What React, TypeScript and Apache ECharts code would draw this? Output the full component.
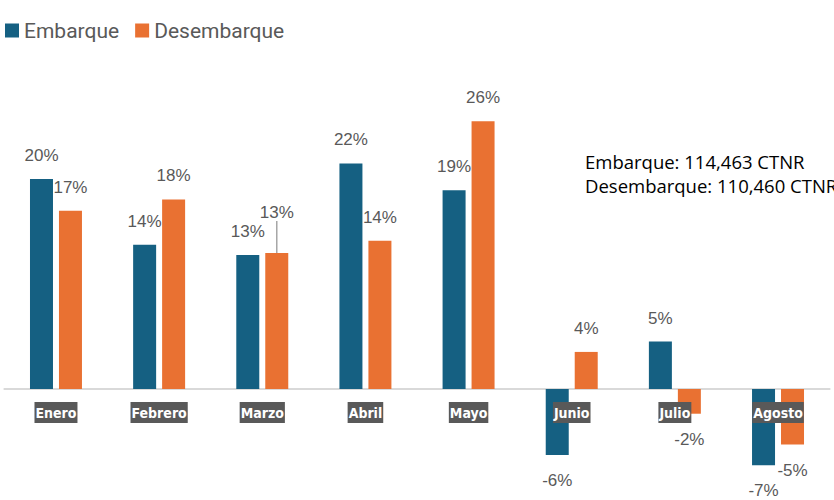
import React, { useEffect, useRef } from "react";
import * as echarts from "echarts";

const categories = ["Enero", "Febrero", "Marzo", "Abril", "Mayo", "Junio", "Julio", "Agosto"];
const embarque = [20.4, 14.0, 13.0, 21.9, 19.3, -6.4, 4.6, -7.4];
const desembarque = [17.3, 18.4, 13.2, 14.4, 26.0, 3.6, -2.4, -5.4];
const seriesNames = ["Embarque", "Desembarque"];
const annotationLines = ["Embarque: 114,463 CTNR", "Desembarque: 110,460 CTNR"];

const BLUE = "#156082";
const ORANGE = "#E97132";
const LABEL_GREY = "#595959";

function makeData(values: number[], kind: string) {
  return values.map((v, i) => {
    const item: any = {
      value: v,
      label: { position: v < 0 ? "bottom" : "top", distance: v < 0 ? 17 : 15 },
    };
    if (kind === "des" && i === 0) item.label.offset = [9, 0];
    if (kind === "des" && i === 2) item.labelLine = { show: true };
    return item;
  });
}

export default function App() {
  const ref = useRef<HTMLDivElement>(null);
  useEffect(() => {
    if (!ref.current) return;
    const chart = echarts.init(ref.current, undefined, { renderer: "svg" });
    const labelStyle = {
      show: true,
      color: LABEL_GREY,
      fontSize: 17,
      fontFamily: "Liberation Sans, Arial, sans-serif",
      formatter: (p: any) => Math.round(p.value) + "%",
    };
    chart.setOption({
      animation: false,
      backgroundColor: "#ffffff",
      legend: {
        left: 5,
        top: 20,
        padding: 0,
        itemWidth: 14,
        itemHeight: 14,
        itemGap: 16,
        icon: "rect",
        textStyle: { fontSize: 21, color: LABEL_GREY, fontFamily: "Roboto, sans-serif" },
        data: seriesNames,
      },
      grid: { left: 4.4, right: 4.4, top: 80, bottom: 28.6, containLabel: false, outerBoundsMode: "none" },
      xAxis: {
        type: "category",
        data: categories,
        axisTick: { show: false },
        axisLabel: { show: false },
        axisLine: { onZero: true, lineStyle: { color: "#d9d9d9", width: 2 } },
      },
      yAxis: {
        type: "value",
        min: -8,
        max: 30,
        show: false,
        splitLine: { show: false },
      },
      series: [
        {
          name: seriesNames[0],
          type: "bar",
          barWidth: 23,
          barGap: "26%",
          itemStyle: { color: BLUE },
          label: labelStyle,
          data: makeData(embarque, "emb"),
        },
        {
          name: seriesNames[1],
          type: "bar",
          barWidth: 23,
          barGap: "26%",
          itemStyle: { color: ORANGE },
          label: labelStyle,
          labelLine: { show: false, lineStyle: { color: "#a6a6a6", width: 1.5 } },
          labelLayout: (p: any) => (p.dataIndex === 2 ? { dy: -17 } : {}),
          data: makeData(desembarque, "des"),
        },
        {
          name: "categoryLabels",
          type: "scatter",
          symbolSize: 0,
          z: 20,
          silent: true,
          itemStyle: { opacity: 1 },
          data: categories.map((c) => [c, 0]),
          label: {
            show: true,
            position: "bottom",
            distance: 13,
            opacity: 1,
            formatter: (p: any) => p.name || p.value[0],
            color: "#ffffff",
            fontWeight: "bold",
            fontSize: 14,
            fontFamily: "Liberation Sans Narrow, DejaVu Sans Condensed, Arial Narrow, sans-serif",
            backgroundColor: "#595959",
            padding: [3, 1, 2, 1],
            lineHeight: 16,
          },
        },
      ],
      graphic: [
        {
          type: "text",
          left: 585,
          top: 149,
          style: {
            text: annotationLines.join("\n"),
            fill: "#000000",
            fontSize: 18.5,
            lineHeight: 24,
            fontFamily: "Open Sans, sans-serif",
          },
        },
      ],
    });
    return () => chart.dispose();
  }, []);
  return (
    <div
      ref={ref}
      style={{ position: "fixed", left: 0, top: 0, width: 834, height: 500, background: "#fff" }}
    />
  );
}
